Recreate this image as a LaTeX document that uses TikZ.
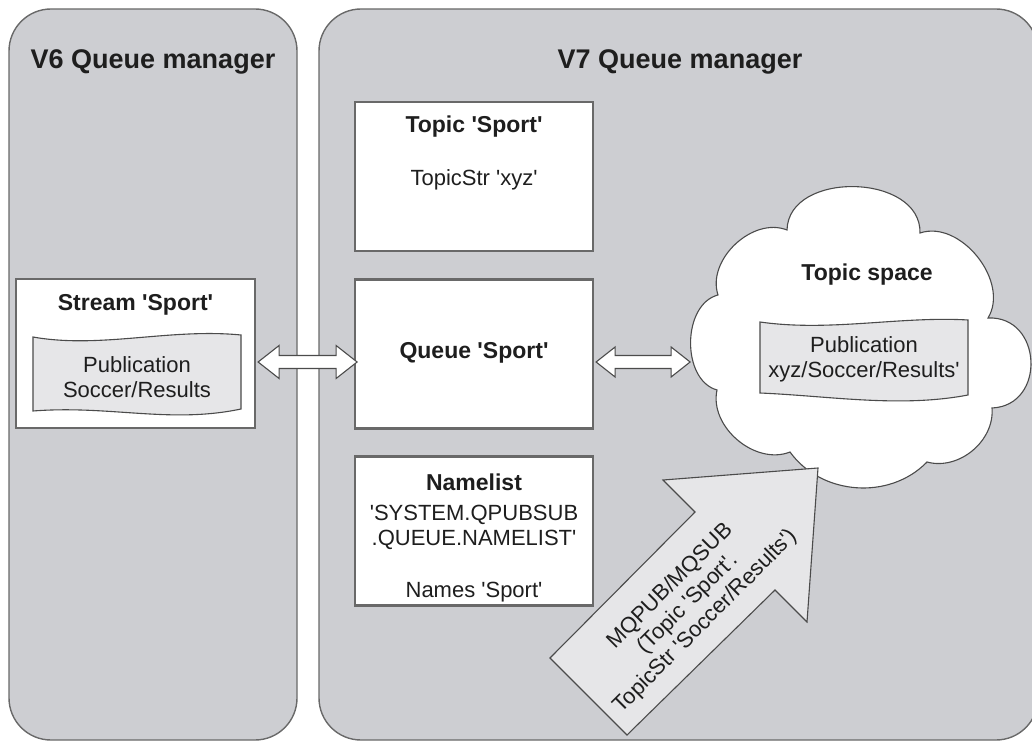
\documentclass[tikz,border=0pt]{standalone}
\usepackage{fontspec}
\newfontfamily\arial{Liberation Sans}
\definecolor{panelgray}{RGB}{205,206,210}
\definecolor{docgray}{RGB}{230,230,232}
\definecolor{edge}{RGB}{105,105,105}
\definecolor{ink}{RGB}{30,30,30}
\begin{document}
\begin{tikzpicture}[x=1pt,y=1pt,
  every node/.style={font=\arial, text=ink, inner sep=0pt},
  panel/.style={draw=edge, line width=1.4pt, fill=panelgray, rounded corners=42pt, minimum height=731pt},
  box/.style={draw=edge, line width=2.2pt, fill=white, minimum width=238pt, minimum height=149pt},
  bigtitle/.style={font=\arial\bfseries\fontsize{27}{32}\selectfont},
  boxtitle/.style={font=\arial\bfseries\fontsize{23}{27}\selectfont},
  body/.style={font=\arial\fontsize{22}{25}\selectfont, align=center},
  doc/.style={draw=ink!80, line width=1.1pt, fill=docgray},
  dblarrow/.style={draw=ink!80, line width=1.1pt, fill=white},
  cloudline/.style={draw=ink!80, line width=1.1pt, fill=white},
  bigarrow/.style={draw=ink!80, line width=1.1pt, fill=docgray}
]
\useasboundingbox (0,0) rectangle (1032,742);
\clip (0,0) rectangle (1032,742);

% panels
\node[panel, minimum width=288pt] (v6) at (153,367.5) {};
\node[panel, minimum width=719pt] (v7) at (678.5,367.5) {};
\node[bigtitle] (v6title) at (153,680) {V6 Queue manager};
\node[bigtitle] (v7title) at (680,680) {V7 Queue manager};

% boxes
\node[box, minimum width=239pt] (stream) at (135.5,388.5) {};
\node[box] (topic) at (474,565.5) {};
\node[box] (queue) at (474,388) {};
\node[box] (namelist) at (474,211) {};

% stream box content
\node[boxtitle] (streamT) at (135.5,437) {Stream 'Sport'};
\draw[doc] (33,405) .. controls (100,393) and (170,414) .. (241,407)
  -- (241,333) .. controls (170,318) and (110,337) .. (33,331) -- cycle;
\node[body] (pub1) at (137,364.5) {Publication\\Soccer/Results};

% topic box content
\node[boxtitle] (topicT) at (474,615) {Topic 'Sport'};
\node[body] (topicS) at (474,562) {TopicStr 'xyz'};

% queue box content
\node[boxtitle] (queueT) at (474,389) {Queue 'Sport'};

% namelist content
\node[boxtitle] (nlT) at (474,260) {Namelist};
\node[body] (nlQ) at (474,214.5) {'SYSTEM.QPUBSUB\\.QUEUE.NAMELIST'};
\node[body] (nlN) at (474,150) {Names 'Sport'};

% cloud
\coordinate (A) at (787,512);
\coordinate (B) at (920,509);
\coordinate (C) at (988,424);
\coordinate (D) at (992,334);
\coordinate (E) at (927,280);
\coordinate (F) at (790,290);
\coordinate (G) at (717,352);
\coordinate (H) at (718,447);
\draw[cloudline] (A) to[bend left=90, looseness=1.15] (B)
  to[bend left=70] (C)
  to[bend left=90, looseness=1.55] (D)
  to[bend left=55] (E)
  to[bend left=50] (F)
  to[bend left=62] (G)
  to[bend left=75] (H)
  to[bend left=65] (A) -- cycle;
\node[boxtitle] (tsT) at (867,467) {Topic space};
\draw[doc] (760,420) .. controls (830,410) and (900,426) .. (968,422)
  -- (968,347) .. controls (900,334) and (830,346) .. (760,349) -- cycle;
\node[body] (pub2) at (864,382.5) {Publication\\xyz/Soccer/Results'};

% left double arrow
\path (stream.east) ++(2,-8.5) coordinate (L0);
\draw[dblarrow] (L0) -- ++(21,16.5) -- ++(0,-10) -- ++(57,0) -- ++(0,10)
  -- ++(21,-16.5) -- ++(-21,-16.5) -- ++(0,10) -- ++(-57,0) -- ++(0,-10) -- cycle;

% right double arrow
\path (queue.east) ++(2,-8) coordinate (R0);
\draw[dblarrow] (R0) -- ++(19,15) -- ++(0,-8.5) -- ++(56,0) -- ++(0,8.5)
  -- ++(19,-15) -- ++(-19,-15) -- ++(0,8.5) -- ++(-56,0) -- ++(0,-8.5) -- cycle;

% big arrow
\coordinate (t1) at (550,84);
\coordinate (t2) at (627,7);
\coordinate (n2) at (775,152);
\coordinate (h2) at (807,120);
\coordinate (tip) at (818,274);
\coordinate (h1) at (663,262);
\coordinate (n1) at (695,230);
\draw[bigarrow] (t1) -- (t2) -- (n2) -- (h2) -- (tip) -- (h1) -- (n1) -- cycle;
\node[body, rotate=45] (arrT) at (688,138) {MQPUB/MQSUB\\(Topic 'Sport'.\\TopicStr 'Soccer/Results')};
\end{tikzpicture}
\end{document}
